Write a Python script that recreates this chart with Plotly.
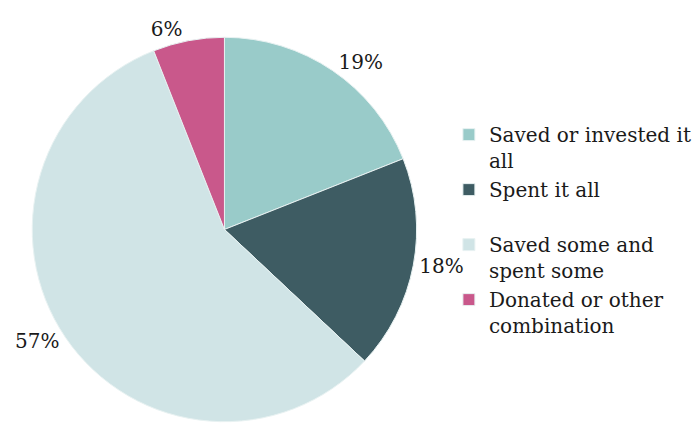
import plotly.graph_objects as go

# Survey responses: what people did with the money
categories = [
    "Saved or invested it<br>all",
    "Spent it all<br> ",
    "Saved some and<br>spent some",
    "Donated or other<br>combination",
]
shares = [19, 18, 57, 6]
colors = ["#99cbc9", "#3e5c63", "#d0e4e6", "#c9588b"]

FONT = "DejaVu Serif"

fig = go.Figure(
    go.Pie(
        labels=categories,
        values=shares,
        sort=False,
        direction="clockwise",
        rotation=0,
        marker=dict(colors=colors, line=dict(color="#e8f2f2", width=1)),
        textinfo="percent",
        texttemplate="%{value}%",
        textposition="outside",
        textfont=dict(family=FONT, size=20, color="#1a1a1a"),
        domain=dict(x=[0.048, 0.62], y=[0.0, 0.915]),
        hoverinfo="label+percent",
    )
)

fig.update_layout(
    width=697,
    height=428,
    margin=dict(l=0, r=0, t=0, b=0),
    paper_bgcolor="white",
    plot_bgcolor="white",
    font=dict(family=FONT, size=20, color="#1a1a1a"),
    legend=dict(
        x=0.668,
        y=0.456,
        xanchor="left",
        yanchor="middle",
        valign="top",
        bgcolor="rgba(0,0,0,0)",
        font=dict(family=FONT, size=20, color="#1a1a1a"),
        itemwidth=30,
        traceorder="normal",
    ),
    showlegend=True,
)

fig.write_html("out.html")
